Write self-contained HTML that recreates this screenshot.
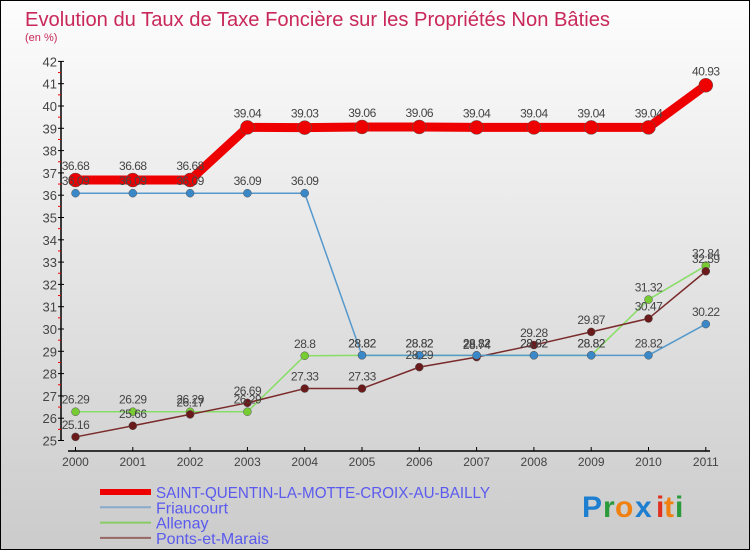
<!DOCTYPE html>
<html><head><meta charset="utf-8"><style>
html,body{margin:0;padding:0}
body{width:750px;height:550px;overflow:hidden}
svg{display:block;font-family:"Liberation Sans",sans-serif}
</style></head><body>
<svg id="chart" width="750" height="550" viewBox="0 0 750 550">
<defs><linearGradient id="bg" x1="0" y1="0" x2="0" y2="1"><stop offset="0" stop-color="#fdfdfd"/><stop offset="1" stop-color="#cbcbcb"/></linearGradient></defs>
<rect x="0" y="0" width="750" height="550" fill="url(#bg)"/>
<rect x="0.5" y="0.5" width="749" height="549" fill="none" stroke="#000"/>
<text x="25" y="26" font-size="20" fill="#c8285a" textLength="585" lengthAdjust="spacingAndGlyphs">Evolution du Taux de Taxe Foncière sur les Propriétés Non Bâties</text>
<text x="25" y="41" font-size="11" fill="#c8285a">(en %)</text>
<g id="axes"></g>
<g id="series"></g>
<g id="legend"></g>
<g font-size="30" font-weight="bold" font-family="'Liberation Sans',sans-serif">
<text x="582" y="517" fill="#1e7fd0">P</text><text x="603" y="517" fill="#2a9a3a">r</text><text x="615" y="517" fill="#f08010">o</text><text x="635" y="517" fill="#1e7fd0">x</text><text x="656" y="517" fill="#e03020">i</text><text x="664" y="517" fill="#f08010">t</text><text x="675" y="517" fill="#2a9a3a">i</text>
</g>
</svg>
<script>
const years=["2000","2001","2002","2003","2004","2005","2006","2007","2008","2009","2010","2011"];
const yTicks=[25,26,27,28,29,30,31,32,33,34,35,36,37,38,39,40,41,42];
const seriesNames=["SAINT-QUENTIN-LA-MOTTE-CROIX-AU-BAILLY","Friaucourt","Allenay","Ponts-et-Marais"];
const saintQuentin=[36.68,36.68,36.68,39.04,39.03,39.06,39.06,39.04,39.04,39.04,39.04,40.93];
const friaucourt=[36.09,36.09,36.09,36.09,36.09,28.82,28.82,28.82,28.82,28.82,28.82,30.22];
const allenay=[26.29,26.29,26.29,26.29,28.8,28.82,28.82,28.82,28.82,28.82,31.32,32.84];
const pontsEtMarais=[25.16,25.66,26.17,26.69,27.33,27.33,28.29,28.74,29.28,29.87,30.47,32.59];
const NS="http://www.w3.org/2000/svg";
const X0=75.5,XSTEP=57.3,Y0=440.5,YMIN=25,YUNIT=22.3;
function xs(i){return X0+i*XSTEP;}
function ys(v){return Y0-(v-YMIN)*YUNIT;}
function mk(tag,attrs,parent){const e=document.createElementNS(NS,tag);for(const k in attrs)e.setAttribute(k,attrs[k]);parent.appendChild(e);return e;}
const axes=document.getElementById('axes');
const yAxis=mk('line',{x1:61,y1:ys(42),x2:61,y2:ys(25),stroke:'#000','stroke-width':1.5},axes);


yTicks.forEach(v=>{
 const t=mk('line',{x1:58,x2:64,y1:ys(v),y2:ys(v),stroke:'#000'},axes);
 
 
 if(v<42){const m=mk('line',{x1:58,x2:61,y1:ys(v+0.5),y2:ys(v+0.5),stroke:'#e00'},axes);
 
 }
 const l=mk('text',{x:57,y:ys(v)+5,'font-size':13,fill:'#444','text-anchor':'end'},axes);
 l.textContent=v;
 
 
});
const xAxis=mk('line',{x1:68,y1:451,x2:710,y2:451,stroke:'#000','stroke-width':1.5},axes);


years.forEach((y,i)=>{
 const t=mk('line',{x1:xs(i),x2:xs(i),y1:451,y2:447,stroke:'#000'},axes);
 
 
 const l=mk('text',{x:xs(i),y:466,'font-size':12,fill:'#444','text-anchor':'middle'},axes);
 l.textContent=y;
 
 
});
const ser=document.getElementById('series');
const defs=[
 {d:allenay,c:'#88dd66',w:1.5,r:4,fc:'#77cc33',n:'allenay'},
 {d:pontsEtMarais,c:'#7a2a2a',w:1.5,r:4,fc:'#6a1a1a',n:'ponts-et-marais'},
 {d:friaucourt,c:'#5599cc',w:1.5,r:4,fc:'#3a88c8',n:'friaucourt'},
 {d:saintQuentin,c:'#ee0000',w:9,r:7,fc:'#ee0000',n:'saint-quentin'}
];
defs.forEach(s=>{
 const g=mk('g',{},ser);
 
 
 const p=mk('polyline',{points:s.d.map((v,i)=>xs(i)+','+ys(v)).join(' '),fill:'none',stroke:s.c,'stroke-width':s.w,'stroke-linejoin':'round'},g);
 
 
 s.d.forEach((v,i)=>{
  const c=mk('circle',{cx:xs(i),cy:ys(v),r:s.r,fill:s.fc,stroke:'#555','stroke-width':0.5},g);
  
  
 });
});
defs.forEach(s=>{
 s.d.forEach((v,i)=>{
  const t=mk('text',{x:xs(i),y:ys(v)-(s.r>5?10:8),'font-size':12,fill:'#444','text-anchor':'middle','letter-spacing':'-0.5'},ser);
  t.textContent=v;
  
  
 });
});
const leg=document.getElementById('legend');
const legCols=['#ee0000','#88aacc','#88cc66','#996666'];
const legW=[6,2,2,2];
seriesNames.forEach((n,i)=>{
 const y=492+i*15.3;
 const l=mk('line',{x1:100,x2:151,y1:y,y2:y,stroke:legCols[i],'stroke-width':legW[i]},leg);
 
 
 const t=mk('text',{x:156,y:y+6,'font-size':16,fill:'#5a5aee'},leg);
 if(i===0){t.setAttribute('textLength','334');t.setAttribute('lengthAdjust','spacingAndGlyphs');}
 t.textContent=n;
 
 
});
</script>
</body></html>
